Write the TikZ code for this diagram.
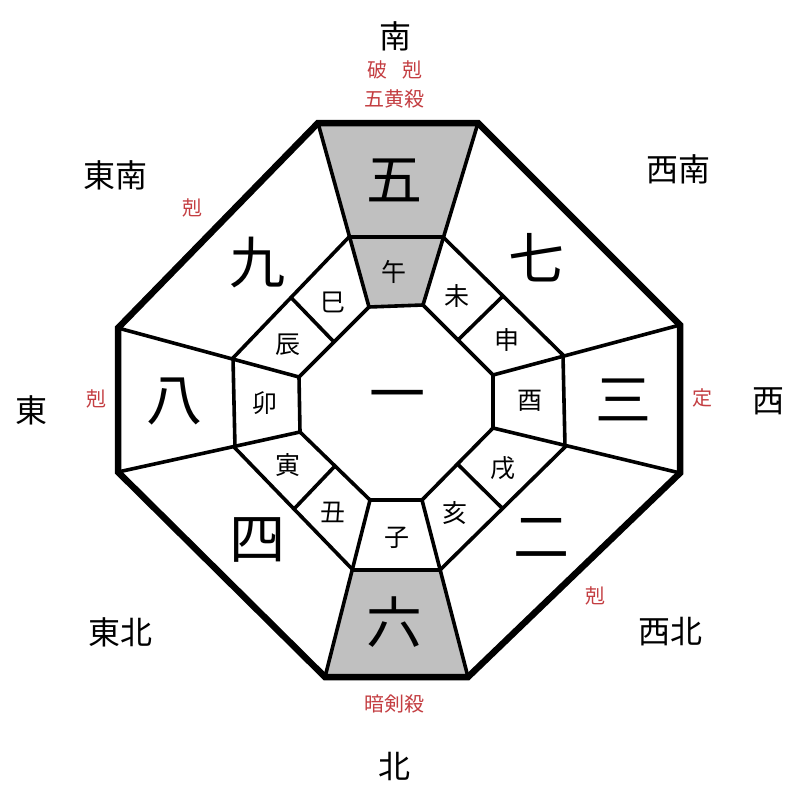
\documentclass[tikz,border=0pt]{standalone}
\usepackage{fontspec}
\usetikzlibrary{calc}
\setmainfont{Noto Sans CJK JP}
\definecolor{redtxt}{RGB}{196,62,66}
\definecolor{greyfill}{RGB}{192,192,192}
\begin{document}
\begin{tikzpicture}[x=1pt,y=-1pt,
  big/.style={inner sep=0pt,font=\fontsize{56}{56}\selectfont},
  small/.style={inner sep=0pt,font=\fontsize{25}{25}\selectfont},
  dir/.style={inner sep=0pt,font=\fontsize{32}{32}\selectfont},
  note/.style={inner sep=0pt,text=redtxt,font=\fontsize{20}{20}\selectfont},
  outerline/.style={line width=6.5pt,line join=miter},
  innerline/.style={line width=3.6pt,line join=miter},
  midline/.style={line width=4.8pt}]
\useasboundingbox (0,0) rectangle (800,800);
\fill[white] (0,0) rectangle (800,800);
% outer vertices
\coordinate (O1) at (318,123); \coordinate (O2) at (478,123);
\coordinate (O3) at (680,325); \coordinate (O4) at (680,473);
\coordinate (O5) at (468,677); \coordinate (O6) at (325,677);
\coordinate (O7) at (118,472); \coordinate (O8) at (118,328);
% middle ring
\coordinate (M1) at (349,237); \coordinate (M2) at (443,237);
\coordinate (M3) at (563,355); \coordinate (M4) at (565,447);
\coordinate (M5) at (440,570); \coordinate (M6) at (353,570);
\coordinate (M7) at (235,448); \coordinate (M8) at (233,358);
% inner octagon
\coordinate (I1) at (369,307); \coordinate (I2) at (423,305);
\coordinate (I3) at (493,375); \coordinate (I4) at (493,428);
\coordinate (I5) at (422,500); \coordinate (I6) at (370,500);
\coordinate (I7) at (300,432); \coordinate (I8) at (299,377);
% shaded sectors
\fill[greyfill] (O1) -- (O2) -- (M2) -- (M1) -- cycle;
\fill[greyfill] (M1) -- (M2) -- (I2) -- (I1) -- cycle;
\fill[greyfill] (M6) -- (M5) -- (O5) -- (O6) -- cycle;
% radial lines
\foreach \k in {1,...,8} { \draw[innerline] (O\k) -- (I\k); }
% middle ring
\draw[innerline] (M2) -- (M3) -- (M4) -- (M5);
\draw[innerline] (M6) -- (M7) -- (M8) -- (M1);
\draw[midline] (M1) -- (M2);
\draw[midline] (M6) -- (M5);
% inner octagon
\draw[innerline] (I1) -- (I2) -- (I3) -- (I4) -- (I5) -- (I6) -- (I7) -- (I8) -- cycle;
% dividers in the diagonal sectors
\draw[innerline] ($(M8)!0.5!(M1)$) -- ($(I8)!0.5!(I1)$);
\draw[innerline] ($(M2)!0.5!(M3)$) -- ($(I2)!0.5!(I3)$);
\draw[innerline] ($(M4)!0.5!(M5)$) -- ($(I4)!0.5!(I5)$);
\draw[innerline] ($(M6)!0.5!(M7)$) -- ($(I6)!0.5!(I7)$);
% outer octagon
\draw[outerline] (O1) -- (O2) -- (O3) -- (O4) -- (O5) -- (O6) -- (O7) -- (O8) -- cycle;
% big numbers
\node[big] (n5) at (394,180) {五};
\node[big] (n7) at (536,258) {七};
\node[big] (n3) at (623,400) {三};
\node[big] (n2) at (541,538) {二};
\node[big] (n6) at (394,622) {六};
\node[big] (n4) at (257,540) {四};
\node[big] (n8) at (174,402) {八};
\node[big] (n9) at (257,263) {九};
\node[big] (n1) at (397,402) {一};
% branches
\node[small] (bwu) at (394,272) {午};
\node[small] (bwei) at (457,296) {未};
\node[small] (bshen) at (507,340) {申};
\node[small] (byou) at (530,401) {酉};
\node[small] (bxu) at (503,468) {戌};
\node[small] (bhai) at (455,513) {亥};
\node[small] (bzi) at (397,538) {子};
\node[small] (bchou) at (333,512) {丑};
\node[small] (byin) at (288,465) {寅};
\node[small] (bmao) at (265,403) {卯};
\node[small] (bchen) at (288,345) {辰};
\node[small] (bsi) at (333,302) {巳};
% directions
\node[dir] (dS) at (395,36) {南};
\node[dir] (dN) at (394,766) {北};
\node[dir] (dE) at (32,410) {東};
\node[dir] (dW) at (768,401) {西};
\node[dir] (dSE) at (115,175) {東南};
\node[dir] (dSW) at (678,169) {西南};
\node[dir] (dNE) at (120,632) {東北};
\node[dir] (dNW) at (670,632) {西北};
% red notes
\node[note] (rS1) at (377,70) {破};
\node[note] (rS2) at (412,70) {剋};
\node[note] (rS3) at (394,99) {五黄殺};
\node[note] (rN) at (394,704) {暗剣殺};
\node[note] (rSE) at (192,208) {剋};
\node[note] (rE) at (96,399) {剋};
\node[note] (rW) at (702,398) {定};
\node[note] (rNW) at (595,596) {剋};
\end{tikzpicture}
\end{document}
